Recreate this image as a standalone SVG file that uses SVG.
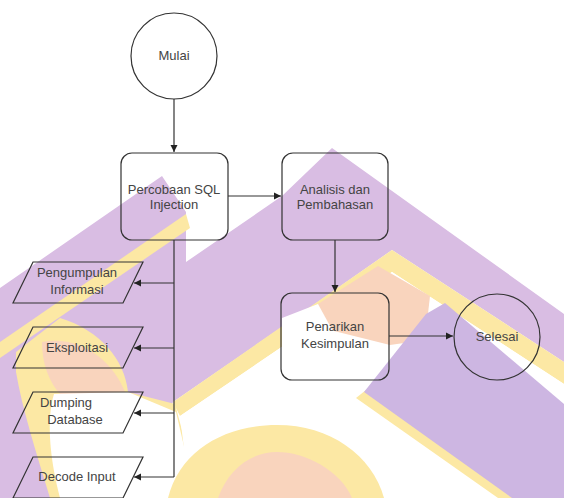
<svg xmlns="http://www.w3.org/2000/svg" width="564" height="498" viewBox="0 0 564 498">
<defs>
<marker id="ah" markerWidth="8" markerHeight="8" refX="7" refY="4" orient="auto" markerUnits="userSpaceOnUse">
<path d="M0,0.5 L7,4 L0,7.5 Z" fill="#222"/>
</marker>
<style>
.wp{fill:#d9bde3}
.wl{fill:#cdb6e2}
.wy{fill:#fce8a4}
.wk{fill:#f9d4bd}
.ww{fill:#ffffff}
.box{fill:none;stroke:#333;stroke-width:1.2}
.edge{fill:none;stroke:#333;stroke-width:1.2}
.t{font-family:"Liberation Sans",Arial,sans-serif;font-size:13px;fill:#444;text-anchor:middle}
</style>
</defs>
<rect width="564" height="498" fill="#ffffff"/>
<g id="watermark">
<polygon class="wp" points="0,288 162,176 186,212 186,262 282,196 332,148 564,314 564,362 392,250 282,327 173,402 130,498 0,498"/>
<polygon class="wy" points="0,342 186,214 190,228 0,358"/>
<polygon class="wy" points="173,402 392,250 564,362 564,384 392,272 180,416"/>
<path class="wy" d="M16,352 L60,318 C100,330 125,360 128,392 L175,404 L200,498 L50,498 C36,452 22,408 16,372 Z"/>
<path class="wk" d="M42,342 C80,335 112,360 125,392 L62,396 C48,382 42,362 42,342 Z"/>
<path class="ww" d="M54,394 L128,392 L176,412 L196,498 L60,498 C50,460 46,420 54,394 Z"/>
<polygon class="ww" points="180,416 392,272 564,384 564,498 190,498"/>
<polygon class="wk" points="318,304 378,266 430,296 425,340 390,345 330,330"/>
<polygon class="ww" points="282,318 318,304 335,335 330,382 282,382"/>
<path class="wy" d="M168,498 C180,450 225,425 277,425 C330,425 372,455 384,498 Z"/>
<path class="wk" d="M218,498 C228,470 250,452 277,452 C305,452 340,470 352,498 Z"/>
<polygon class="wy" points="356,398 366,390 516,498 498,498"/>
<polygon class="wl" points="364,392 426,314 445,303 564,404 564,498 512,498"/>
</g>
<g id="connectors">
<line class="edge" x1="174" y1="99" x2="174" y2="152" marker-end="url(#ah)"/>
<line class="edge" x1="228" y1="196" x2="281" y2="196" marker-end="url(#ah)"/>
<line class="edge" x1="335" y1="240" x2="335" y2="292" marker-end="url(#ah)"/>
<line class="edge" x1="389" y1="336" x2="453" y2="336" marker-end="url(#ah)"/>
<polyline class="edge" points="174,240 174,477"/>
<line class="edge" x1="174" y1="283" x2="134" y2="283" marker-end="url(#ah)"/>
<line class="edge" x1="174" y1="348" x2="134" y2="348" marker-end="url(#ah)"/>
<line class="edge" x1="174" y1="413" x2="134" y2="413" marker-end="url(#ah)"/>
<line class="edge" x1="174" y1="477" x2="134" y2="477" marker-end="url(#ah)"/>
</g>
<g id="mulai">
<circle class="box" cx="174" cy="56" r="43"/>
<text class="t" x="174" y="60">Mulai</text>
</g>
<g id="percobaan">
<rect class="box" x="121" y="153" width="107" height="87" rx="11"/>
<text class="t" x="174" y="194">Percobaan SQL</text>
<text class="t" x="174" y="209">Injection</text>
</g>
<g id="analisis">
<rect class="box" x="282" y="153" width="106" height="87" rx="11"/>
<text class="t" x="335" y="194">Analisis dan</text>
<text class="t" x="335" y="209">Pembahasan</text>
</g>
<g id="penarikan">
<rect class="box" x="281" y="293" width="108" height="87" rx="11"/>
<text class="t" x="335" y="331">Penarikan</text>
<text class="t" x="335" y="348">Kesimpulan</text>
</g>
<g id="selesai">
<circle class="box" cx="497" cy="337" r="43"/>
<text class="t" x="497" y="341">Selesai</text>
</g>
<g id="pengumpulan">
<polygon class="box" points="33,262 143,262 123,303 13,303"/>
<text class="t" x="77" y="277">Pengumpulan</text>
<text class="t" x="77" y="294">Informasi</text>
</g>
<g id="eksploitasi">
<polygon class="box" points="33,327 143,327 123,368 13,368"/>
<text class="t" x="77" y="352">Eksploitasi</text>
</g>
<g id="dumping">
<polygon class="box" points="33,392 143,392 123,433 13,433"/>
<text class="t" x="66" y="407">Dumping</text>
<text class="t" x="75" y="424">Database</text>
</g>
<g id="decode">
<polygon class="box" points="33,457 143,457 123,498 13,498"/>
<text class="t" x="77" y="481">Decode Input</text>
</g>
</svg>
